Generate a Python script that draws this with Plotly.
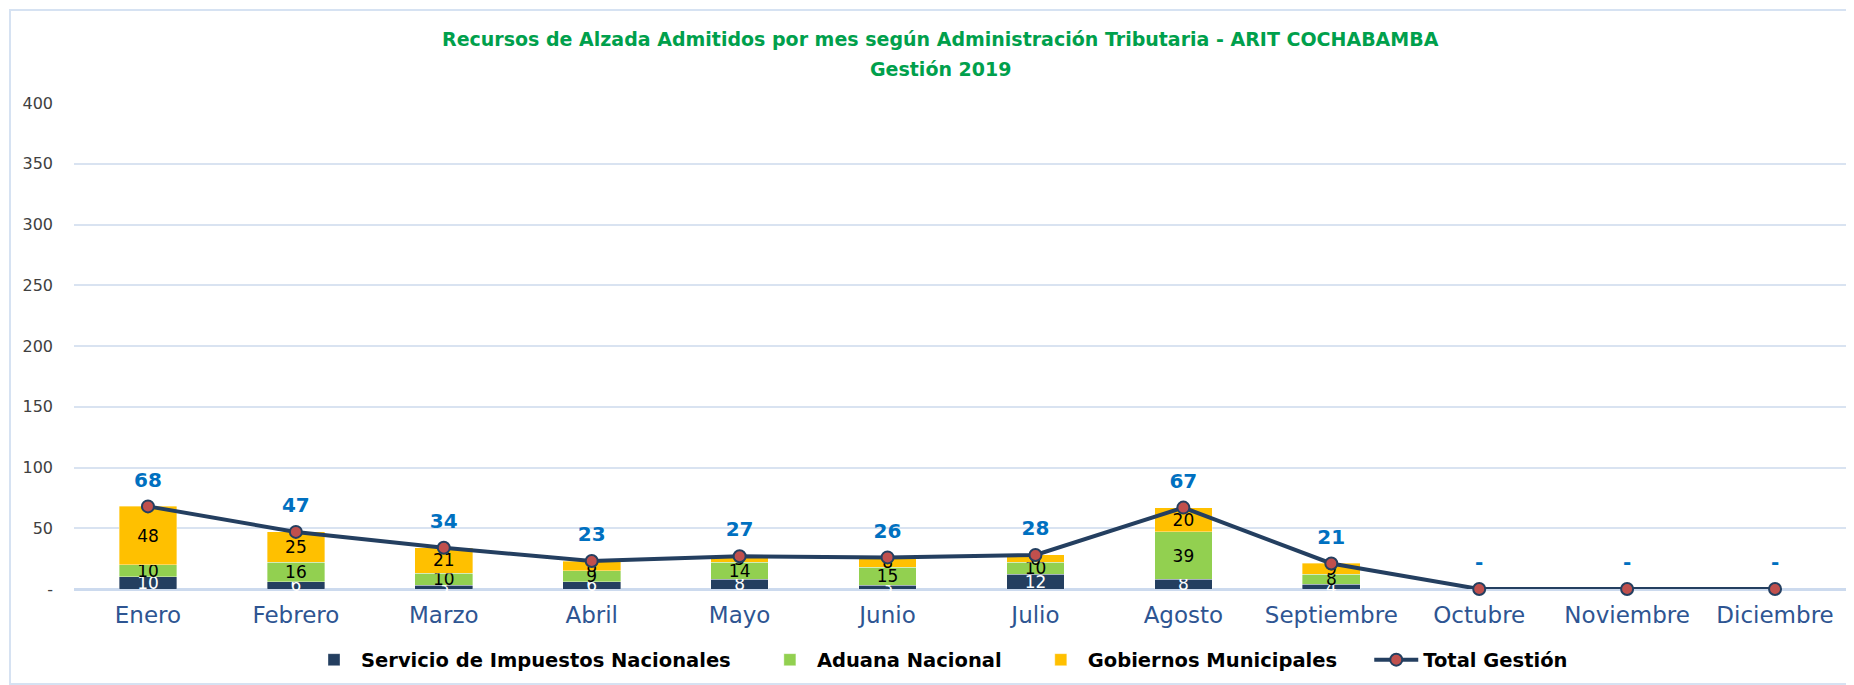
import plotly.graph_objects as go

meses = ["Enero", "Febrero", "Marzo", "Abril", "Mayo", "Junio", "Julio",
         "Agosto", "Septiembre", "Octubre", "Noviembre", "Diciembre"]
sin = [10, 6, 3, 6, 8, 3, 12, 8, 4, 0, 0, 0]
aduana = [10, 16, 10, 9, 14, 15, 10, 39, 8, 0, 0, 0]
gobiernos = [48, 25, 21, 8, 5, 8, 6, 20, 9, 0, 0, 0]
total = [68, 47, 34, 23, 27, 26, 28, 67, 21, 0, 0, 0]
y_ticks = [0, 50, 100, 150, 200, 250, 300, 350, 400]
y_ticktext = ["-", "50", "100", "150", "200", "250", "300", "350", "400"]

FONT = "DejaVu Sans"
OFF = 8  # page body margin
PAD = "\u00a0" * 4  # extra legend spacing

def lbl(vals):
    return [str(v) if v else "" for v in vals]

fig = go.Figure()
series = [
    ("Servicio de Impuestos Nacionales", sin, "#243F60", "white"),
    ("Aduana Nacional", aduana, "#92D050", "black"),
    ("Gobiernos Municipales", gobiernos, "#FFC000", "black"),
]
for name, vals, col, tcol in series:
    fig.add_trace(go.Bar(
        x=meses, y=vals, name=name + PAD,
        marker=dict(color=col, line=dict(width=0.6, color="rgba(255,255,255,0.6)")),
        text=lbl(vals), textposition="inside", insidetextanchor="middle",
        textangle=0, constraintext="none", cliponaxis=False,
        textfont=dict(family=FONT, size=17, color=tcol),
    ))

fig.add_trace(go.Scatter(
    x=meses, y=total, name="Total Gestión", mode="lines+markers",
    line=dict(color="#243F60", width=4),
    marker=dict(size=12, color="#C0504D", line=dict(color="#243F60", width=2)),
    cliponaxis=False,
))
# data labels of the total line
fig.add_trace(go.Scatter(
    x=meses, y=total, mode="markers+text", showlegend=False, hoverinfo="skip",
    marker=dict(size=22, opacity=0),
    text=[str(v) if v else "-" for v in total], textposition="top center",
    textfont=dict(family=FONT, size=20, color="#0070C0", weight="bold"),
    cliponaxis=False,
))

W, H = 1854, 685
L, R, T, B = 74 - OFF, 1849 - OFF, 103 - OFF, 589 - OFF
pw, ph = R - L, B - T

fig.update_layout(
    width=W, height=H,
    margin=dict(l=L, r=W - R, t=T, b=H - B, autoexpand=False),
    barmode="stack", bargap=0.61,
    plot_bgcolor="white", paper_bgcolor="white",
    font=dict(family=FONT),
    legend=dict(
        orientation="h", x=(940 - OFF - L) / pw, xanchor="center",
        y=(B - (660 - OFF)) / ph, yanchor="middle",
        font=dict(family=FONT, size=19.5, color="black", weight="bold"),
        itemwidth=44, traceorder="normal",
    ),
    showlegend=True,
)
title_lines = ["Recursos de Alzada Admitidos por mes según Administración Tributaria - ARIT COCHABAMBA",
               "Gestión 2019"]
for txt, ypx in zip(title_lines, [39, 69]):
    fig.add_annotation(
        text="<b>" + txt + "</b>", xref="paper", yref="paper",
        x=(940 - OFF - L) / pw, y=(B - (ypx - OFF)) / ph,
        xanchor="center", yanchor="middle", showarrow=False,
        font=dict(family=FONT, size=19, color="#00A04C"),
    )
fig.update_xaxes(
    range=[-0.5, len(meses) - 0.5], autorange=False, automargin=False,
    showgrid=False, showline=False, ticks="",
    tickfont=dict(family=FONT, size=23, color="#2E5592"),
    ticklabelstandoff=10,
)
fig.update_yaxes(
    range=[0, 400], autorange=False, automargin=False,
    tickvals=y_ticks, ticktext=y_ticktext,
    showgrid=True, gridcolor="#D9E3F1", gridwidth=1.5,
    zeroline=True, zerolinecolor="#CCDAEE", zerolinewidth=2.5,
    tickfont=dict(family=FONT, size=16, color="#404040"),
    ticklabelstandoff=20,
)
fig.add_shape(
    type="rect", xref="paper", yref="paper",
    x0=(10 - OFF - L) / pw, x1=(1852 - OFF - L) / pw,
    y0=(B - (684 - OFF)) / ph, y1=(B - (10 - OFF)) / ph,
    line=dict(color="#D6E2F2", width=2), fillcolor="rgba(0,0,0,0)", layer="below",
)

fig.write_html("out.html")
